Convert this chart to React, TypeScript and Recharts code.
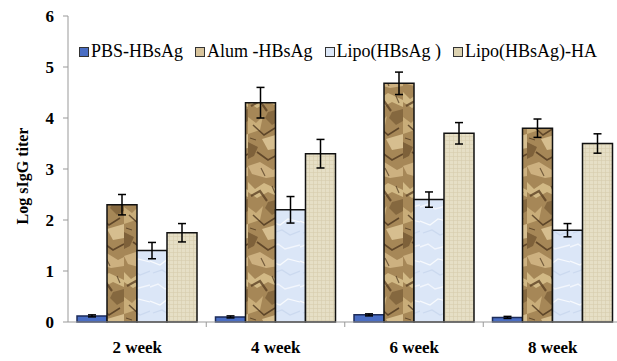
import React from 'react';
import { BarChart, Bar, XAxis, YAxis, ErrorBar } from 'recharts';

const weeks = ['2 week', '4 week', '6 week', '8 week'];
const pbs = [0.12, 0.1, 0.14, 0.09];
const pbsErr = [0.02, 0.02, 0.02, 0.02];
const alum = [2.3, 4.3, 4.68, 3.8];
const alumErr = [0.2, 0.3, 0.22, 0.18];
const lipo = [1.4, 2.2, 2.4, 1.8];
const lipoErr = [0.16, 0.26, 0.15, 0.13];
const lipoHA = [1.75, 3.3, 3.7, 3.5];
const lipoHAErr = [0.18, 0.28, 0.21, 0.19];
const yTicks = [0, 1, 2, 3, 4, 5, 6];

const data = weeks.map((week, i) => ({
  week,
  pbs: pbs[i],
  pbsErr: pbsErr[i],
  alum: alum[i],
  alumErr: alumErr[i],
  lipo: lipo[i],
  lipoErr: lipoErr[i],
  lipoHA: lipoHA[i],
  lipoHAErr: lipoHAErr[i],
}));

const series = [
  { key: 'pbs', err: 'pbsErr', name: 'PBS-HBsAg', fill: '#4a6ec4', stroke: '#1e2d5a', swatch: '#4a6ec4' },
  { key: 'alum', err: 'alumErr', name: 'Alum -HBsAg', fill: 'url(#alumTex)', stroke: '#111', swatch: '#d8c49c' },
  { key: 'lipo', err: 'lipoErr', name: 'Lipo(HBsAg )', fill: 'url(#lipoTex)', stroke: '#111', swatch: '#dde8f8' },
  { key: 'lipoHA', err: 'lipoHAErr', name: 'Lipo(HBsAg)-HA', fill: 'url(#haTex)', stroke: '#111', swatch: '#dcd2b0' },
];

const serif = '"Liberation Serif", serif';

const WeekTick = (props: any) => {
  const { x, y, payload, index } = props;
  return (
    <g>
      <text x={x} y={y + 31} textAnchor="middle" fontFamily={serif} fontSize={17} fontWeight="bold" fill="#000">
        {payload.value}
      </text>
      {index < weeks.length - 1 && <line x1={x + 69} x2={x + 69} y1={y} y2={y + 5} stroke="#999" />}
    </g>
  );
};

// rotated axis title, placed like the original
const YLabel = () => (
  <text x={22} y={176} transform="rotate(-90 22 176)" textAnchor="middle" dominantBaseline="central"
    fontFamily={serif} fontSize={16} fontWeight="bold" fill="#000">
    Log sIgG titer
  </text>
);

export default function App() {
  return (
    <div style={{ position: 'absolute', left: 0, top: 0, width: 617, height: 361, overflow: 'hidden', background: '#fff', fontFamily: serif }}>
      <BarChart width={622} height={361} data={data} margin={{ top: 16, right: 0, bottom: 0, left: 0 }}
        barCategoryGap="6.5%" barGap={0}>
        <defs>
          <pattern id="alumTex" patternUnits="userSpaceOnUse" width={31} height={90}>
            <rect width={31} height={90} fill="#a68757" />
            <path d="M0 2 L7 9 L16 3 L31 10 L31 17 L20 12 L9 18 L0 12Z" fill="#d2b985" />
            <path d="M3 16 L12 11 L19 21" stroke="#553b1f" strokeWidth={2.2} fill="none" opacity={0.75} />
            <path d="M20 22 L31 19 L31 31 L24 35 L17 28Z" fill="#7d6039" opacity={0.8} />
            <path d="M0 27 L8 33 L15 26 L12 40 L0 44Z" fill="#c9ad79" />
            <path d="M5 35 L16 45 L27 38" stroke="#3f2914" strokeWidth={1.6} fill="none" opacity={0.7} />
            <path d="M14 49 L31 44 L31 58 L20 60Z" fill="#dcc595" opacity={0.9} />
            <path d="M0 52 L10 57 L6 66 L0 69Z" fill="#6e522e" opacity={0.7} />
            <path d="M9 62 L20 70 L31 64" stroke="#4a321b" strokeWidth={1.8} fill="none" opacity={0.75} />
            <path d="M0 76 L12 72 L25 80 L31 77 L31 86 L18 88 L4 84Z" fill="#cdb180" />
            <path d="M13 78 L17 86 M24 6 L27 13 M2 48 L8 50" stroke="#3a2510" strokeWidth={1.2} opacity={0.6} />
          </pattern>
          <pattern id="lipoTex" patternUnits="userSpaceOnUse" width={30} height={40}>
            <rect width={30} height={40} fill="#dbe6f7" />
            <path d="M0 7 L8 4 L15 9 L30 5" stroke="#f2f6fd" strokeWidth={1.5} fill="none" />
            <path d="M0 21 L10 25 L18 19 L30 22" stroke="#ffffff" strokeWidth={1.2} fill="none" opacity={0.8} />
            <path d="M3 33 L12 30 L20 35 L30 31" stroke="#cbd9ef" strokeWidth={1.2} fill="none" />
          </pattern>
          <pattern id="haTex" patternUnits="userSpaceOnUse" width={4} height={4}>
            <rect width={4} height={4} fill="#e6dfc6" />
            <path d="M0 0.5 H4 M1.5 0 V4" stroke="#cbc09c" strokeWidth={0.6} opacity={0.6} />
          </pattern>
        </defs>
        <XAxis dataKey="week" height={39} axisLine={{ stroke: '#999' }} tickLine={false} tickSize={0} tickMargin={0}
          tick={<WeekTick />} interval={0} />
        <YAxis width={68} domain={[0, 6]} ticks={yTicks} interval={0} axisLine={{ stroke: '#999' }}
          tickLine={{ stroke: '#999' }} tickSize={5} tickMargin={9}
          tick={{ fontFamily: serif, fontSize: 17, fontWeight: 'bold', fill: '#000' }}
          label={<YLabel />} />
        {series.map((s) => (
          <Bar key={s.key} dataKey={s.key} name={s.name} fill={s.fill} stroke={s.stroke} strokeWidth={1.5}
            isAnimationActive={false}>
            <ErrorBar dataKey={s.err} width={4} stroke="#000" strokeWidth={1.5} direction="y" isAnimationActive={false} />
          </Bar>
        ))}
      </BarChart>
      <div style={{ position: 'absolute', left: 79, top: 41, display: 'flex', gap: 12, fontFamily: serif, fontSize: 18, color: '#000', whiteSpace: 'nowrap' }}>
        {series.map((s) => (
          <div key={s.key} style={{ display: 'flex', alignItems: 'center', gap: 2 }}>
            <span style={{ display: 'inline-block', width: 8, height: 8, background: s.swatch, border: '1px solid #333' }} />
            <span>{s.name}</span>
          </div>
        ))}
      </div>
    </div>
  );
}
